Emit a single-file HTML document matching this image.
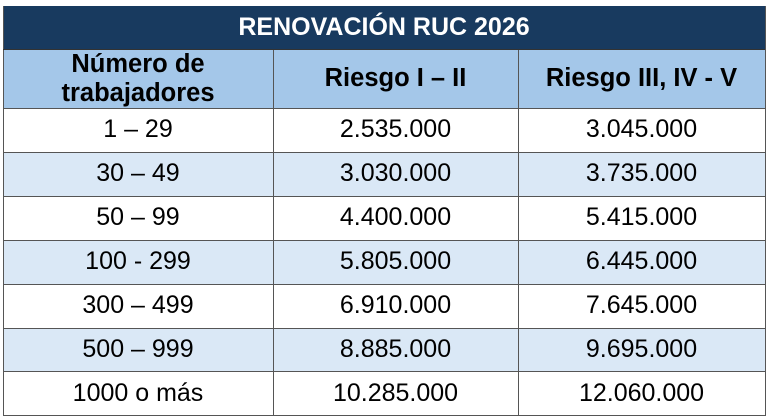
<!DOCTYPE html>
<html><head><meta charset="utf-8"><style>
body{margin:0;width:768px;height:417px;background:#fff;font-family:"Liberation Sans",sans-serif;overflow:hidden;position:relative}
.c{position:absolute;display:flex;align-items:center;justify-content:center;text-align:center;box-sizing:border-box;color:#000;font-size:25px}
.h{background:#183a5f;color:#fff;font-weight:bold;font-size:25px}
.s{background:#a4c7e9;font-weight:bold;font-size:25.5px;line-height:29px}
.a{background:#dae8f6}
.hl{position:absolute;height:1px;background:#555;left:3px;width:762px}
.vl{position:absolute;width:1px;background:#555}
</style></head><body>
<div class="c h" style="left:3px;top:6px;width:762px;height:43px">RENOVACIÓN RUC 2026</div>
<div class="c s" style="left:3px;top:49px;width:762px;height:59px"></div>
<div class="c s" style="left:3px;top:49px;width:270px;height:59px;background:none">Número de<br>trabajadores</div>
<div class="c s" style="left:273px;top:49px;width:245px;height:59px;background:none">Riesgo I – II</div>
<div class="c s" style="left:518px;top:49px;width:247px;height:59px;background:none">Riesgo III, IV - V</div>
<div id="rows"></div>
<script>
var d=[["1 – 29","2.535.000","3.045.000"],["30 – 49","3.030.000","3.735.000"],["50 – 99","4.400.000","5.415.000"],["100 - 299","5.805.000","6.445.000"],["300 – 499","6.910.000","7.645.000"],["500 – 999","8.885.000","9.695.000"],["1000 o más","10.285.000","12.060.000"]];
var xs=[[3,270],[273,245],[518,247]],h='';
for(var i=0;i<7;i++){var t=108+i*43.9;
if(i%2)h+='<div class="c a" style="left:3px;top:'+t+'px;width:762px;height:43.9px"></div>';
for(var j=0;j<3;j++)h+='<div class="c" style="left:'+xs[j][0]+'px;top:'+t+'px;width:'+xs[j][1]+'px;height:43.9px">'+d[i][j]+'</div>';
h+='<div class="hl" style="top:'+t+'px"></div>';}
h+='<div class="hl" style="top:415px"></div>';
h+='<div class="vl" style="left:273px;top:49px;height:367px"></div><div class="vl" style="left:518px;top:49px;height:367px"></div>';
h+='<div class="vl" style="left:3px;top:6px;height:410px"></div><div class="vl" style="left:765px;top:6px;height:410px"></div>';
h+='<div class="hl" style="top:49px;background:#333"></div>';
document.getElementById('rows').innerHTML=h;
</script>
</body></html>
